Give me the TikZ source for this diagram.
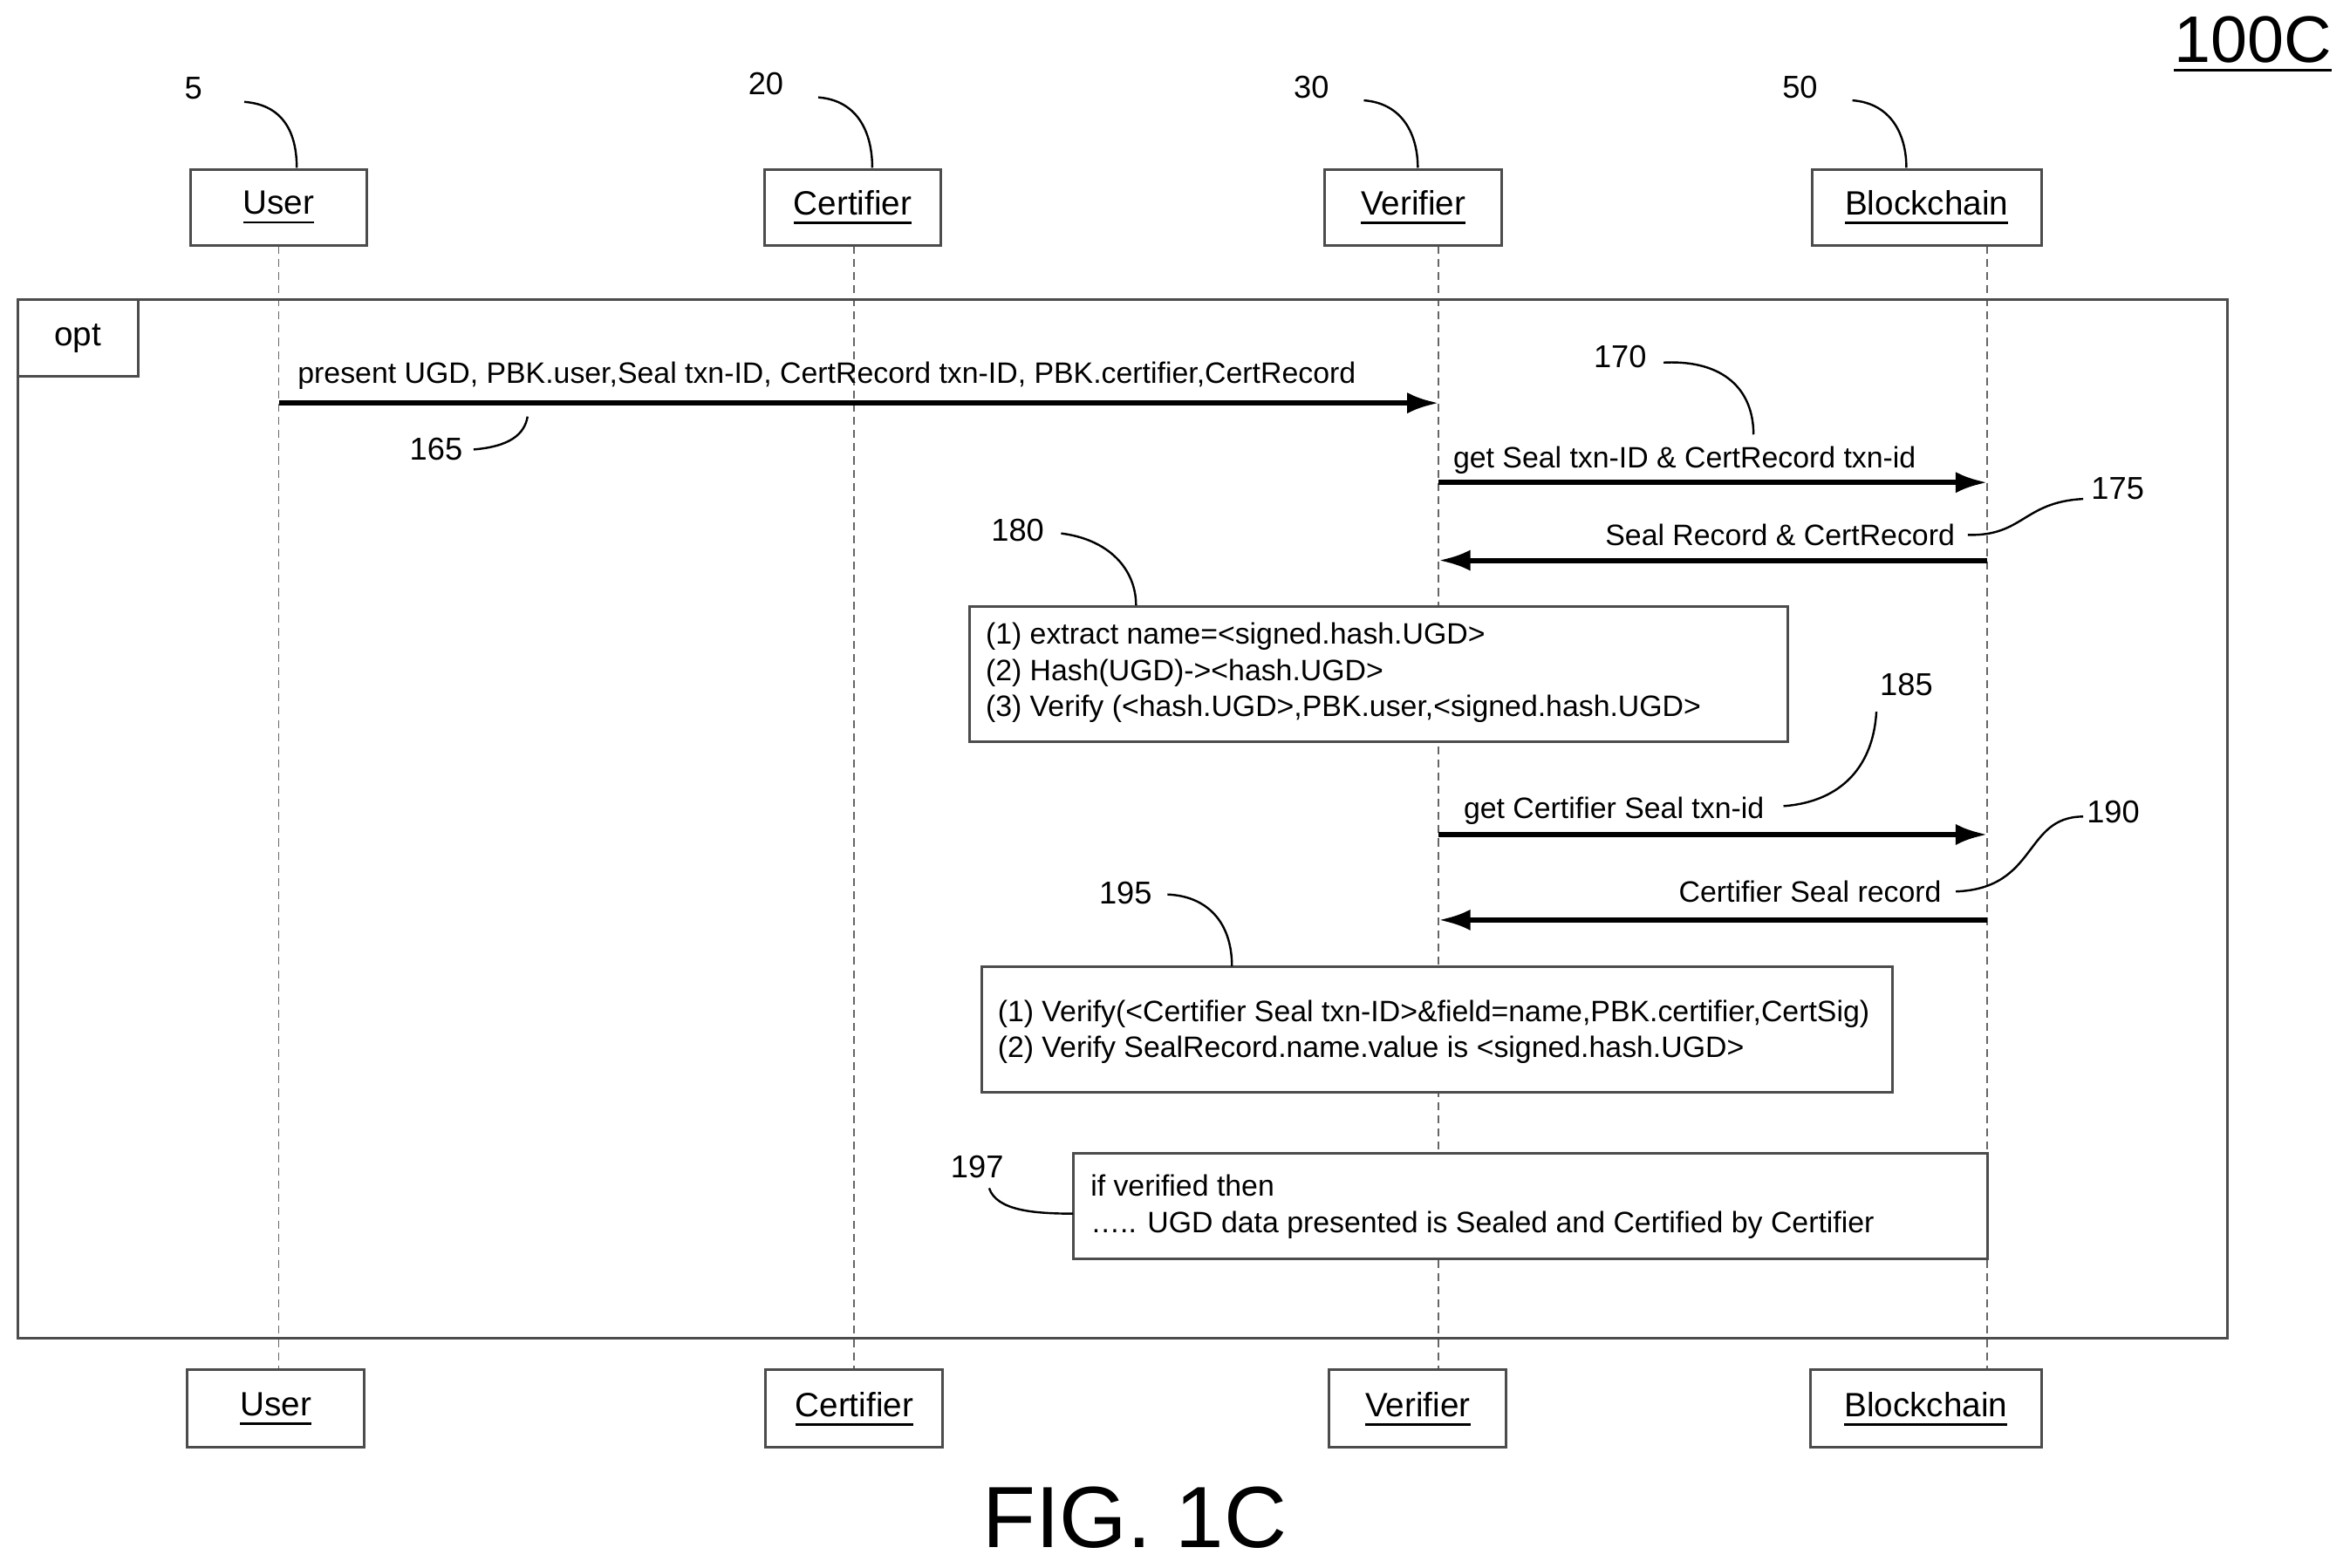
\documentclass[tikz,border=0pt]{standalone}
\usepackage{fontspec}
\setmainfont{Liberation Sans}
\usetikzlibrary{arrows.meta}
\begin{document}
\begin{tikzpicture}[x=0.01cm,y=-0.01cm,
 every node/.style={inner sep=0pt},
 box/.style={draw=black!70,line width=0.5pt},
 txt/.style={font=\fontsize{5.6}{7}\selectfont},
 num/.style={font=\fontsize{6}{7}\selectfont},
 ttl/.style={font=\fontsize{6.4}{7}\selectfont},
 life/.style={draw=black!60,line width=0.3pt,dash pattern=on 1.5pt off 1pt},
 msg/.style={line width=1pt,-{Latex[length=6pt,width=4pt]}},
 lead/.style={line width=0.4pt}]
\useasboundingbox (0,0) rectangle (1568,1046);
% lifelines
\foreach \n/\x in {u/186,c/570,v/960,b/1326}{
 \coordinate (\n t) at (\x,164); \coordinate (\n b) at (\x,914);
 \draw[life] (\n t) -- (\n b);}
% frame
\draw[box] (12,200) rectangle (1486,893);
\draw[box] (12,200) rectangle (92,251);
\node[ttl] (opt) at (52,226) {opt};
% top boxes
\foreach \n/\a/\b/\t in {U/127/245/User,C/510/628/Certifier,V/884/1002/Verifier,B/1209/1362/Blockchain}{
 \draw[box,fill=white] (\a,113) rectangle (\b,164);
 \node[ttl] (\n top) at ({(\a+\b)/2},139) {\underline{\t}};}
\foreach \n/\a/\b/\t in {U/125/243/User,C/511/629/Certifier,V/887/1005/Verifier,B/1208/1362/Blockchain}{
 \draw[box,fill=white] (\a,914) rectangle (\b,966);
 \node[ttl] (\n bot) at ({(\a+\b)/2},941) {\underline{\t}};}
% labels above boxes
\node[num] (n5) at (129,59) {5};
\node[num] (n20) at (511,56) {20};
\node[num] (n30) at (875,58) {30};
\node[num] (n50) at (1201,58) {50};
\draw[lead] (163,68) .. controls (190,70) and (198,90) .. (198,112);
\draw[lead] (546,65) .. controls (572,67) and (582,88) .. (582,112);
\draw[lead] (910,67) .. controls (936,69) and (946,90) .. (946,112);
\draw[lead] (1236,67) .. controls (1262,69) and (1272,90) .. (1272,112);
% messages
\coordinate (m1a) at (186,269); \coordinate (m1b) at (960,269);
\draw[msg] (m1a) -- (m1b);
\node[txt,anchor=base west] (l1) at (198,256) {present UGD, PBK.user,Seal txn-ID, CertRecord txn-ID, PBK.certifier,CertRecord};
\node[num] (n165) at (291,300) {165};
\draw[lead] (316,300) .. controls (340,298) and (350,290) .. (352,278);
\coordinate (m2a) at (960,322); \coordinate (m2b) at (1326,322);
\draw[msg] (m2a) -- (m2b);
\node[txt,anchor=base west] (l2) at (969,312) {get Seal txn-ID \& CertRecord txn-id};
\node[num] (n170) at (1081,238) {170};
\draw[lead] (1110,242) .. controls (1150,240) and (1170,260) .. (1170,290);
\coordinate (m3a) at (1326,374); \coordinate (m3b) at (960,374);
\draw[msg] (m3a) -- (m3b);
\node[txt,anchor=base east] (l3) at (1305,364) {Seal Record \& CertRecord};
\node[num] (n175) at (1413,326) {175};
\draw[lead] (1313,357) .. controls (1350,358) and (1350,335) .. (1390,333);
% box 180
\draw[box,fill=white] (647,405) rectangle (1193,495);
\node[txt,anchor=base west,align=left] (t180) at (657,430) {(1) extract name=<signed.hash.UGD>};
\node[txt,anchor=base west] at (657,454) {(2) Hash(UGD)-><hash.UGD>};
\node[txt,anchor=base west] at (657,478) {(3) Verify (<hash.UGD>,PBK.user,<signed.hash.UGD>};
\node[num] (n180) at (679,354) {180};
\draw[lead] (708,356) .. controls (740,360) and (758,380) .. (758,404);
% 185
\coordinate (m4a) at (960,557); \coordinate (m4b) at (1326,557);
\draw[msg] (m4a) -- (m4b);
\node[txt,anchor=base west] (l4) at (976,546) {get Certifier Seal txn-id};
\node[num] (n185) at (1272,457) {185};
\draw[lead] (1190,538) .. controls (1230,535) and (1250,510) .. (1252,475);
% 190
\coordinate (m5a) at (1326,614); \coordinate (m5b) at (960,614);
\draw[msg] (m5a) -- (m5b);
\node[txt,anchor=base east] (l5) at (1296,602) {Certifier Seal record};
\node[num] (n190) at (1410,542) {190};
\draw[lead] (1305,595) .. controls (1360,593) and (1350,545) .. (1390,545);
% box 195
\draw[box,fill=white] (655,645) rectangle (1263,729);
\node[txt,anchor=base west] (t195) at (665,682) {(1) Verify(<Certifier Seal txn-ID>\&field=name,PBK.certifier,CertSig)};
\node[txt,anchor=base west] at (665,706) {(2) Verify SealRecord.name.value is <signed.hash.UGD>};
\node[num] (n195) at (751,596) {195};
\draw[lead] (779,597) .. controls (805,598) and (822,615) .. (822,645);
% box 197
\draw[box,fill=white] (716,770) rectangle (1326,840);
\node[txt,anchor=base west] (t197) at (727,798) {if verified then};
\node[txt,anchor=base west] at (727,823) {\ldots.. UGD data presented is Sealed and Certified by Certifier};
\node[num] (n197) at (652,779) {197};
\draw[lead] (660,793) .. controls (665,808) and (690,810) .. (716,810);
% titles
\node[font=\fontsize{12.5}{14}\selectfont] (id) at (1503,30) {\underline{100C}};
\node[font=\fontsize{16.5}{18}\selectfont] (fig) at (757,1013) {FIG. 1C};
\end{tikzpicture}
\end{document}
